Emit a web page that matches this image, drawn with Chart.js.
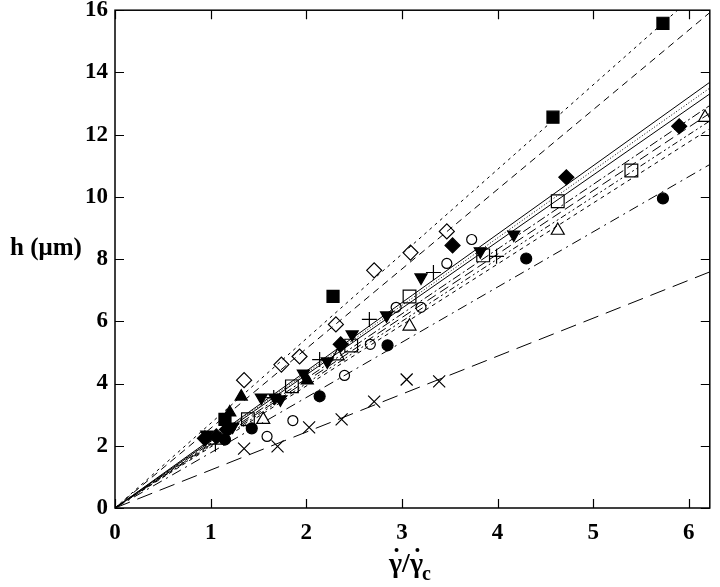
<!DOCTYPE html>
<html>
<head>
<meta charset="utf-8">
<script src="https://cdn.jsdelivr.net/npm/chart.js@4/dist/chart.umd.min.js"></script>
<style>
html,body{margin:0;padding:0;background:#fff;}
#wrap{position:relative;width:720px;height:587px;}
</style>
</head>
<body>
<div id="wrap"><canvas id="c" width="720" height="587"></canvas></div>
<script>
// ---- axis ticks ----
const xTicks = [0, 1, 2, 3, 4, 5, 6];
const yTicks = [0, 2, 4, 6, 8, 10, 12, 14, 16];
const xMax = 6.22;

// ---- measured series (x = shear-rate ratio, y = h in µm) ----
const filledSquareX = [1.15, 2.28, 4.58, 5.73];
const filledSquareY = [2.85, 6.80, 12.56, 15.58];

const openDiamondX = [1.35, 1.74, 1.93, 2.31, 2.71, 3.09, 3.47];
const openDiamondY = [4.11, 4.61, 4.87, 5.90, 7.64, 8.21, 8.89];

const filledDiamondX = [0.94, 1.06, 1.17, 2.36, 3.53, 4.72, 5.90];
const filledDiamondY = [2.24, 2.30, 2.52, 5.26, 8.44, 10.63, 12.27];

const downTriX = [0.96, 1.23, 1.53, 1.67, 1.73, 1.97, 2.22, 2.48, 2.84, 3.20, 3.82, 4.17];
const downTriY = [2.36, 2.62, 3.55, 3.55, 3.49, 4.32, 4.71, 5.58, 6.19, 7.41, 8.25, 8.79];

const upTriX = [1.20, 1.32, 2.01];
const upTriY = [3.07, 3.58, 4.10];

const openSquareX = [1.39, 1.85, 2.47, 3.08, 3.85, 4.63, 5.40];
const openSquareY = [2.85, 3.91, 5.22, 6.80, 8.12, 9.86, 10.85];

const openCircleX = [1.59, 1.86, 2.40, 2.67, 2.94, 3.20, 3.47, 3.73];
const openCircleY = [2.30, 2.81, 4.26, 5.26, 6.45, 6.45, 7.86, 8.63];

const filledCircleX = [1.15, 1.43, 2.14, 2.85, 4.30, 5.73];
const filledCircleY = [2.20, 2.56, 3.59, 5.23, 8.02, 9.95];

const openTriX = [1.55, 2.33, 3.08, 4.63, 6.17];
const openTriY = [2.84, 4.88, 5.84, 8.92, 12.55];

const plusX = [1.05, 1.66, 2.14, 2.66, 3.33, 3.99];
const plusY = [2.05, 3.55, 4.77, 6.06, 7.57, 8.09];

const crossX = [1.35, 1.70, 2.03, 2.37, 2.71, 3.05, 3.39];
const crossY = [1.91, 1.98, 2.59, 2.85, 3.42, 4.13, 4.07];

// ---- fitted lines through the origin: slopes ----
const fitSlopes = [2.72, 2.56, 2.20, 2.17, 2.14, 2.08, 2.04, 2.00, 1.96, 1.775, 1.22];
const fitDashes = [[3,4],[7,5],[],[1,2],[],[9,3,2,3],[10,5],[6,3,2,3,2,3],[4,4],[10,5,2,5],[16,8]];

function pts(xs, ys){ return xs.map((x,i)=>({x:x, y:ys[i]})); }

const markerSets = [
  {xs:filledSquareX, ys:filledSquareY, style:'rect', r:8.5, fill:true},
  {xs:openDiamondX, ys:openDiamondY, style:'rectRot', r:7.5, fill:false},
  {xs:filledDiamondX, ys:filledDiamondY, style:'rectRot', r:7.5, fill:true},
  {xs:downTriX, ys:downTriY, style:'triangle', r:7, fill:true, rot:180},
  {xs:upTriX, ys:upTriY, style:'triangle', r:7, fill:true},
  {xs:openSquareX, ys:openSquareY, style:'rect', r:9, fill:false},
  {xs:openCircleX, ys:openCircleY, style:'circle', r:5, fill:false},
  {xs:filledCircleX, ys:filledCircleY, style:'circle', r:5.5, fill:true},
  {xs:openTriX, ys:openTriY, style:'triangle', r:7.5, fill:false},
  {xs:plusX, ys:plusY, style:'cross', r:7.5, fill:false},
  {xs:crossX, ys:crossY, style:'crossRot', r:8.5, fill:false}
];

const datasets = [];
fitSlopes.forEach((s, i) => {
  datasets.push({
    type:'line',
    data:[{x:0,y:0},{x:xMax,y:s*xMax}],
    borderColor:'#000', borderWidth:1, borderDash:fitDashes[i],
    pointRadius:0, fill:false, tension:0, order:2
  });
});
markerSets.forEach(m => {
  datasets.push({
    type:'scatter',
    data:pts(m.xs, m.ys),
    pointStyle:m.style,
    pointRadius:m.r, pointHoverRadius:m.r,
    pointRotation:m.rot||0,
    pointBackgroundColor: m.fill ? '#000' : 'rgba(0,0,0,0)',
    pointBorderColor:'#000', pointBorderWidth:1.2,
    showLine:false, order:1
  });
});

const serif = "'Liberation Serif', 'DejaVu Serif', serif";

const framePlugin = {
  id:'frame',
  afterDraw(chart){
    const {ctx, chartArea:a, scales} = chart;
    ctx.save();
    ctx.strokeStyle = '#000';
    ctx.lineWidth = 1.5;
    ctx.strokeRect(a.left, a.top, a.right - a.left, a.bottom - a.top);
    ctx.lineWidth = 1.2;
    const L = 9;
    xTicks.forEach(v => {
      const px = Math.round(scales.x.getPixelForValue(v)) + 0.5;
      ctx.beginPath();
      ctx.moveTo(px, a.bottom); ctx.lineTo(px, a.bottom - L);
      ctx.moveTo(px, a.top); ctx.lineTo(px, a.top + L);
      ctx.stroke();
    });
    yTicks.forEach(v => {
      const py = Math.round(scales.y.getPixelForValue(v)) + 0.5;
      ctx.beginPath();
      ctx.moveTo(a.left, py); ctx.lineTo(a.left + L, py);
      ctx.moveTo(a.right, py); ctx.lineTo(a.right - L, py);
      ctx.stroke();
    });
    // axis titles
    ctx.fillStyle = '#000';
    ctx.textBaseline = 'alphabetic';
    ctx.font = 'bold 25px ' + serif;
    ctx.textAlign = 'left';
    ctx.fillText('h (\u03bcm)', 10, 255);
    // x title: gamma-dot / gamma-dot subscript c
    ctx.font = 'bold 28px ' + serif;
    const g = '\u03b3';
    const gw = ctx.measureText(g).width;
    const sw = ctx.measureText('/').width;
    const x0 = 389, base = 572;
    ctx.fillText(g, x0, base);
    ctx.fillText('/', x0 + gw, base);
    const x2 = x0 + gw + sw;
    ctx.fillText(g, x2, base);
    [x0, x2].forEach(xx => {
      ctx.beginPath();
      ctx.arc(xx + gw/2 + 1, base - 22, 2, 0, Math.PI*2);
      ctx.fill();
    });
    ctx.font = 'bold 20px ' + serif;
    ctx.fillText('c', x2 + gw - 1, base + 8);
    ctx.restore();
  }
};

new Chart(document.getElementById('c'), {
  data:{datasets:datasets},
  options:{
    responsive:false, animation:false, devicePixelRatio:1,
    layout:{padding:{left:0, right:8, top:10, bottom:0}},
    plugins:{legend:{display:false}, tooltip:{enabled:false}},
    scales:{
      x:{
        type:'linear', min:0, max:xMax,
        afterBuildTicks(scale){ scale.ticks = xTicks.map(v=>({value:v})); },
        afterFit(scale){ scale.height = 79; scale.paddingLeft = 0; scale.paddingRight = 0; },
        grid:{display:false, drawTicks:false},
        border:{display:false},
        ticks:{color:'#000', padding:11, font:{family:serif, size:23, weight:'bold'}, callback:v=>String(v)}
      },
      y:{
        type:'linear', min:0, max:16,
        afterBuildTicks(scale){ scale.ticks = yTicks.map(v=>({value:v})); },
        afterFit(scale){ scale.width = 115; scale.paddingTop = 0; scale.paddingBottom = 0; },
        grid:{display:false, drawTicks:false},
        border:{display:false},
        ticks:{color:'#000', padding:7, font:{family:serif, size:23, weight:'bold'}, callback:v=>String(v)}
      }
    }
  },
  plugins:[framePlugin]
});
</script>
</body>
</html>
